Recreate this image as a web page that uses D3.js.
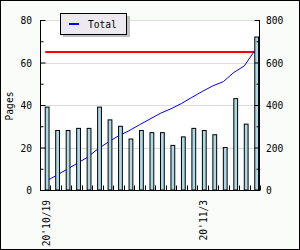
<!DOCTYPE html>
<html>
<head>
<meta charset="utf-8">
<script src="https://cdn.jsdelivr.net/npm/d3@7"></script>
<style>
  body { margin: 0; padding: 0; background: #fff; }
  svg { display: block; }
  text { font-family: "DejaVu Sans Mono", monospace; font-size: 9.6px; fill: #000; }
</style>
</head>
<body>
<div id="chart"></div>
<script>

// days 2020-10-19 .. 2020-11-08
var days = ["10/19","10/20","10/21","10/22","10/23","10/24","10/25","10/26","10/27","10/28","10/29",
            "10/30","10/31","11/1","11/2","11/3","11/4","11/5","11/6","11/7","11/8"];
var pages = [39, 28, 28, 29, 29, 39, 33, 30, 24, 28, 27, 27, 21, 25, 29, 28, 26, 20, 43, 31, 72];
var total = [39, 67, 95, 124, 153, 192, 225, 255, 279, 307, 334, 361, 382, 407, 436, 464, 490, 510, 553, 584, 656];
var goal = 650;
var xlabels = {"10/19": "20'10/19", "11/3": "20'11/3"};
var yticks = [0, 20, 40, 60, 80];
var y2ticks = [0, 200, 400, 600, 800];

var width = 300, height = 250;
var pleft = 40, pright = 260, ptop = 20, pbottom = 190;

var svg = d3.select('#chart').append("svg:svg")
  .attr("width", width)
  .attr("height", height);

svg.append("rect")
  .attr("x", 0.5).attr("y", 0.5)
  .attr("width", width - 1).attr("height", height - 1)
  .attr("fill", "#f9fcf9")
  .attr("stroke", "#000");

svg.append("rect")
  .attr("x", pleft).attr("y", ptop)
  .attr("width", pright - pleft).attr("height", pbottom - ptop)
  .attr("fill", "#fff");

var x = d3.scaleBand().domain(days).range([pleft, pright]).padding(0);
var y = d3.scaleLinear().domain([0, 80]).range([pbottom, ptop]);
var y2 = d3.scaleLinear().domain([0, 800]).range([pbottom, ptop]);
var cx = function(d){ return x(d) + x.bandwidth() / 2; };

// grid
svg.append("g").selectAll("line")
  .data(yticks.slice(1))
  .enter().append("line")
  .attr("x1", pleft).attr("x2", pright)
  .attr("y1", function(d){ return Math.round(y(d)) + 0.5; })
  .attr("y2", function(d){ return Math.round(y(d)) + 0.5; })
  .attr("stroke", "#dcdcdc");

// goal line
svg.append("line")
  .attr("x1", cx(days[0])).attr("x2", cx(days[days.length - 1]))
  .attr("y1", y2(goal)).attr("y2", y2(goal))
  .attr("stroke", "#ff0000")
  .attr("stroke-width", 2);

// running total
var line = d3.line()
  .x(function(d, i){ return cx(days[i]); })
  .y(function(d){ return y2(d); });

svg.append("path")
  .attr("d", line(total))
  .attr("fill", "none")
  .attr("stroke", "#0000ff")
  .attr("stroke-width", 1);

// bars
svg.append("g").selectAll("rect")
  .data(pages)
  .enter().append("rect")
  .attr("x", function(d, i){ return cx(days[i]); })
  .attr("y", function(d){ return y(d); })
  .attr("width", 3.8)
  .attr("height", function(d){ return pbottom - y(d); })
  .attr("fill", "#add8e6")
  .attr("stroke", "#000")
  .attr("stroke-width", 1);

// left axis
var yAxis = d3.axisRight(y).tickValues(d3.range(0, 81, 10)).tickSize(4).tickFormat("");
var gy = svg.append("g").attr("transform", "translate(" + (pleft + 0.5) + ",0)").call(yAxis);
gy.select(".domain").attr("d", "M0," + ptop + "V" + pbottom);
gy.selectAll(".tick line").attr("x2", function(d){ return d % 20 == 0 ? 5 : 3; });

svg.append("g").selectAll("text")
  .data(yticks)
  .enter().append("text")
  .attr("x", 32)
  .attr("y", function(d){ return y(d) + 4; })
  .attr("text-anchor", "end")
  .text(function(d){ return d; });

// right axis
var y2Axis = d3.axisLeft(y2).tickValues(d3.range(0, 801, 100)).tickSize(4).tickFormat("");
var gy2 = svg.append("g").attr("transform", "translate(" + (pright - 0.5) + ",0)").call(y2Axis);
gy2.select(".domain").attr("d", "M0," + ptop + "V" + pbottom);
gy2.selectAll(".tick line").attr("x2", function(d){ return d % 200 == 0 ? -5 : -3; });

svg.append("g").selectAll("text")
  .data(y2ticks)
  .enter().append("text")
  .attr("x", 266)
  .attr("y", function(d){ return y2(d) + 4; })
  .text(function(d){ return d; });

// bottom axis
var xAxis = d3.axisTop(x).tickSize(5).tickFormat("");
var gx = svg.append("g").attr("transform", "translate(0," + (pbottom + 0.5) + ")").call(xAxis);
gx.select(".domain").attr("d", "M" + pleft + ",0H" + pright);
gx.selectAll(".tick").attr("transform", function(d){ return "translate(" + (Math.round(x(d) + x.bandwidth()) + 0.5) + ",0)"; });

svg.append("g").selectAll("text")
  .data(days.filter(function(d){ return xlabels[d]; }))
  .enter().append("text")
  .attr("transform", function(d){ return "translate(" + (cx(d) + 4.3) + ",200) rotate(-90)"; })
  .attr("text-anchor", "end")
  .text(function(d){ return xlabels[d]; });

svg.append("text")
  .attr("transform", "translate(12.5," + ((ptop + pbottom) / 2 + 1) + ") rotate(-90)")
  .attr("text-anchor", "middle")
  .text("Pages");

// legend
svg.append("rect")
  .attr("x", 63).attr("y", 16).attr("width", 67).attr("height", 21)
  .attr("fill", "#c0c0c0");
svg.append("rect")
  .attr("x", 60.5).attr("y", 13.5).attr("width", 66).attr("height", 21)
  .attr("fill", "#ece9ef")
  .attr("stroke", "#000");
svg.append("line")
  .attr("x1", 69).attr("x2", 79).attr("y1", 24).attr("y2", 24)
  .attr("stroke", "#0000ff").attr("stroke-width", 2);
svg.append("text")
  .attr("x", 88).attr("y", 28)
  .text("Total");

</script>
</body>
</html>
